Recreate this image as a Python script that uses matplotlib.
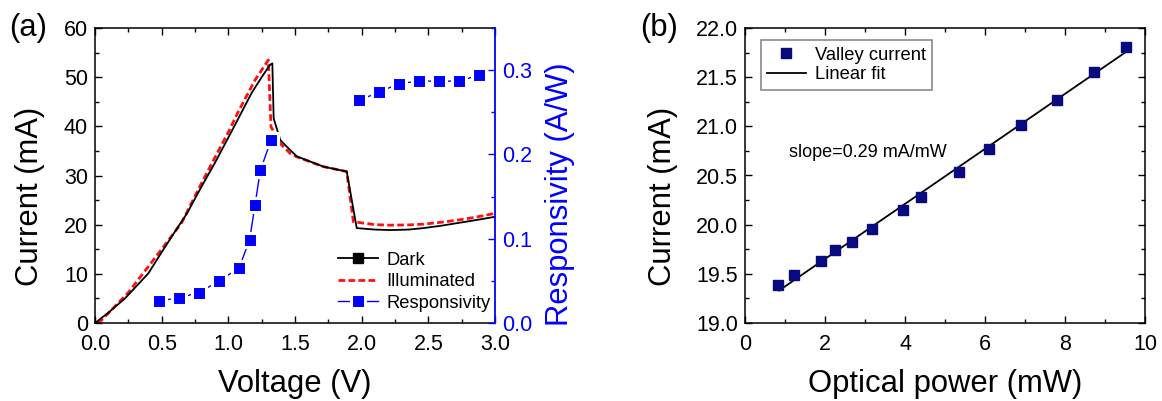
import matplotlib
matplotlib.use('Agg')
import matplotlib.pyplot as plt
from matplotlib.ticker import MultipleLocator, FormatStrFormatter
from matplotlib.lines import Line2D

plt.rcParams['font.family'] = ['Liberation Sans', 'DejaVu Sans']
plt.rcParams['axes.linewidth'] = 1.1

# ---------------- data: panel (a) ----------------
dark_v = [0.0, 0.1, 0.225, 0.4, 0.5, 0.6, 0.69, 0.8, 0.9, 1.025, 1.175, 1.25, 1.3125,
          1.33, 1.34, 1.39, 1.463, 1.513, 1.713, 1.888, 1.963, 2.1, 2.213, 2.35, 2.463,
          2.6, 2.713, 2.85, 3.0]
dark_i = [0.0, 2.1, 5.0, 10.1, 14.4, 18.6, 22.3, 27.8, 32.6, 39.0, 46.8, 50.0, 52.5,
          52.8, 41.6, 37.2, 35.2, 33.9, 31.8, 30.8, 19.3, 19.0, 18.9, 19.0, 19.3,
          19.8, 20.3, 20.9, 21.6]

illum_v = [0.02, 0.05, 0.25, 0.5, 0.65, 0.8, 0.9, 1.0, 1.075, 1.2, 1.3, 1.32, 1.39,
           1.463, 1.513, 1.713, 1.888, 1.938, 2.1, 2.213, 2.35, 2.463, 2.6, 2.713,
           2.85, 3.0]
illum_i = [0.0, 0.6, 6.2, 15.0, 20.4, 28.5, 33.7, 38.8, 43.0, 49.4, 53.5, 39.9, 36.5,
           34.5, 33.8, 31.8, 30.8, 20.6, 20.0, 19.9, 19.95, 20.1, 20.5, 20.9,
           21.5, 22.3]

# responsivity: two measured branches (below and above the valley)
resp_v_low = [0.48, 0.63, 0.78, 0.93, 1.08, 1.16, 1.20, 1.24, 1.32]
resp_r_low = [0.026, 0.030, 0.036, 0.050, 0.065, 0.099, 0.140, 0.181, 0.217]
resp_v_high = [1.98, 2.13, 2.28, 2.43, 2.58, 2.73, 2.88]
resp_r_high = [0.264, 0.274, 0.284, 0.287, 0.287, 0.287, 0.294]

# ---------------- data: panel (b) ----------------
power_mw = [0.83, 1.22, 1.90, 2.25, 2.68, 3.17, 3.95, 4.41, 5.35, 6.10, 6.91, 7.79, 8.72, 9.52]
valley_ma = [19.39, 19.49, 19.63, 19.74, 19.82, 19.96, 20.15, 20.28, 20.54, 20.77,
             21.01, 21.27, 21.55, 21.81]
fit_x = [0.85, 9.5]
fit_y = [19.33, 21.75]
slope_text = "slope=0.29 mA/mW"

BLUE = '#0000ff'
NAVY = '#0a0a80'
RED = '#ff1010'
TICK_FS = 15.5
LABEL_FS = 22.3

fig = plt.figure(figsize=(11.62, 4.01), dpi=100)
axa = fig.add_axes([95 / 1162, 1 - 323 / 401, 400 / 1162, 295 / 401])
axb = fig.add_axes([745 / 1162, 1 - 323 / 401, 400 / 1162, 295 / 401])

# ---------------- panel (a) ----------------
axa.plot(dark_v, dark_i, color='black', lw=1.3, zorder=3)
axa.plot(illum_v, illum_i, color=RED, lw=2.0, linestyle=(0, (2.4, 1.2)), zorder=2)
axa.set_xlim(0, 3.0)
axa.set_ylim(0, 60)
axa.xaxis.set_major_locator(MultipleLocator(0.5))
axa.xaxis.set_minor_locator(MultipleLocator(0.25))
axa.yaxis.set_major_locator(MultipleLocator(10))
axa.yaxis.set_minor_locator(MultipleLocator(5))
axa.xaxis.set_major_formatter(FormatStrFormatter('%.1f'))
axa.tick_params(which='both', direction='in', top=True, right=False, labelsize=TICK_FS, width=1.0)
axa.tick_params(which='major', length=5, pad=5)
axa.tick_params(which='minor', length=3)
axa.tick_params(axis='x', which='major', pad=8)
axa.spines['right'].set_visible(False)
axa.set_xlabel('Voltage (V)', fontsize=LABEL_FS)
axa.set_ylabel('Current (mA)', fontsize=LABEL_FS)
axa.xaxis.set_label_coords(0.5, -0.155)
axa.yaxis.set_label_coords(-0.125, 0.43)

ax2 = axa.twinx()
resp_style = dict(color=BLUE, lw=1.0, marker='s', ms=9.5, markerfacecolor=BLUE,
                  markeredgecolor='white', markeredgewidth=2.2)
ax2.plot(resp_v_low, resp_r_low, **resp_style)
ax2.plot(resp_v_high, resp_r_high, **resp_style)
ax2.set_ylim(0, 0.35)
ax2.yaxis.set_major_locator(MultipleLocator(0.1))
ax2.yaxis.set_minor_locator(MultipleLocator(0.05))
ax2.yaxis.set_major_formatter(FormatStrFormatter('%.1f'))
ax2.tick_params(which='both', direction='in', colors=BLUE, labelsize=TICK_FS, width=1.0)
ax2.tick_params(which='major', length=5, pad=5)
ax2.tick_params(which='minor', length=3)
for s in ['left', 'top', 'bottom']:
    ax2.spines[s].set_visible(False)
ax2.spines['right'].set_color(BLUE)
ax2.spines['right'].set_linewidth(1.3)
ax2.set_ylabel('Responsivity (A/W)', fontsize=LABEL_FS, color=BLUE)
ax2.yaxis.set_label_coords(1.125, 0.438)

h_dark = Line2D([], [], color='black', lw=1.3, marker='s', ms=7, markerfacecolor='black')
h_ill = Line2D([], [], color=RED, lw=2.0, linestyle=(0, (2.4, 1.2)))
h_resp = Line2D([], [], **resp_style)
ax2.legend([h_dark, h_ill, h_resp], ['Dark', 'Illuminated', 'Responsivity'],
           loc='center left', bbox_to_anchor=(0.6075, 0.14), frameon=False,
           fontsize=13.2, borderpad=0, borderaxespad=0, handlelength=2.2,
           handletextpad=0.45, labelspacing=0.25)

fig.text(28 / 1162, 1 - 28 / 401, '(a)', fontsize=LABEL_FS, ha='center', va='center')

# ---------------- panel (b) ----------------
axb.plot(fit_x, fit_y, color='black', lw=1.3, label='Linear fit', zorder=2)
axb.plot(power_mw, valley_ma, linestyle='none', marker='s', ms=7, color=NAVY,
         label='Valley current', zorder=3)
axb.set_xlim(0, 10)
axb.set_ylim(19.0, 22.0)
axb.xaxis.set_major_locator(MultipleLocator(2))
axb.xaxis.set_minor_locator(MultipleLocator(1))
axb.yaxis.set_major_locator(MultipleLocator(0.5))
axb.yaxis.set_minor_locator(MultipleLocator(0.25))
axb.yaxis.set_major_formatter(FormatStrFormatter('%.1f'))
axb.tick_params(which='both', direction='in', top=True, right=True, labelsize=TICK_FS, width=1.0)
axb.tick_params(which='major', length=5, pad=5)
axb.tick_params(which='minor', length=3)
axb.tick_params(axis='x', which='major', pad=8)
axb.set_xlabel('Optical power (mW)', fontsize=LABEL_FS)
axb.set_ylabel('Current (mA)', fontsize=LABEL_FS)
axb.xaxis.set_label_coords(0.5, -0.155)
axb.yaxis.set_label_coords(-0.168, 0.43)
axb.text(1.1, 20.73, slope_text, fontsize=13, ha='left', va='center')

hb, lb = axb.get_legend_handles_labels()
leg = axb.legend(hb[::-1], lb[::-1], loc='upper left', bbox_to_anchor=(0.039, 0.959),
                 borderaxespad=0, fontsize=13.2, fancybox=False, edgecolor='#808080',
                 framealpha=1, borderpad=0.35, handlelength=2.1, handletextpad=0.5,
                 labelspacing=0.15)
leg.get_frame().set_linewidth(1.1)

fig.text(659 / 1162, 1 - 28 / 401, '(b)', fontsize=LABEL_FS, ha='center', va='center')

fig.savefig('out.png', dpi=100)
